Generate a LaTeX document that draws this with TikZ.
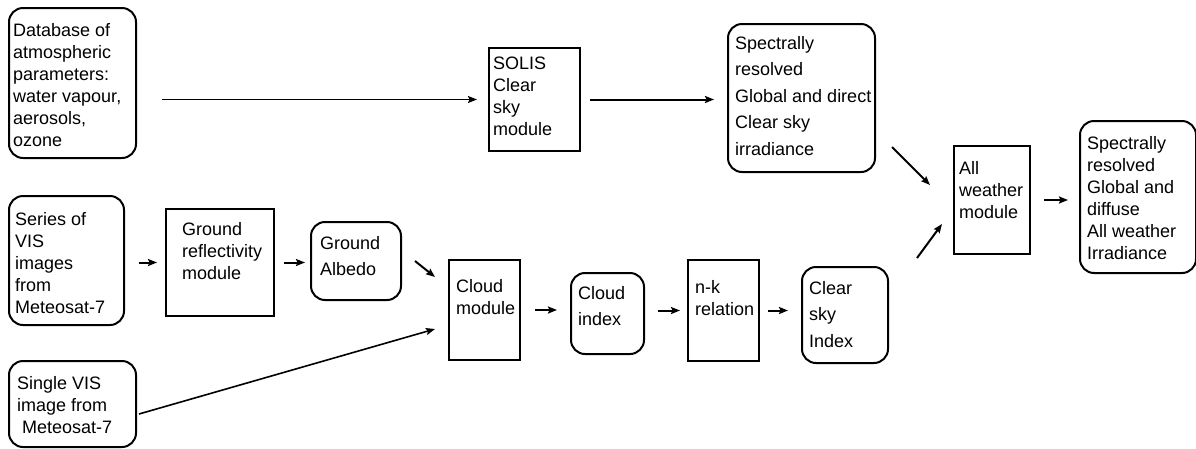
\documentclass[tikz,border=0pt]{standalone}
\usepackage{fontspec}
\setmainfont{Liberation Sans}
\usepackage{tikz}
\usetikzlibrary{arrows.meta}
\tikzset{
    sqbox/.style={draw, line width=2pt, anchor=north west, inner sep=0pt},
    rbox/.style={sqbox, rounded corners=14pt},
    txt/.style={anchor=north west, inner sep=0pt, align=left,
        font=\fontsize{18}{22}\selectfont},
    widetxt/.style={txt, font=\fontsize{18}{26.5}\selectfont},
    arr/.style={-{Stealth[length=9pt, width=7pt, inset=1.5pt]}, line width=2pt}
}

\begin{document}
\begin{tikzpicture}[x=1pt, y=1pt]
    \useasboundingbox (0,0) rectangle (1196,-448);
    % boxes, top left corner at pixel position
    \node[rbox, minimum width=127, minimum height=150] (db) at (8,-7) {};
    \node[sqbox, minimum width=91, minimum height=103] (solis) at (488,-47) {};
    \node[rbox, minimum width=147, minimum height=148] (csirr) at (727,-23) {};
    \node[sqbox, minimum width=76, minimum height=108] (awm) at (953,-145) {};
    \node[rbox, minimum width=116, minimum height=152] (final) at (1079,-120) {};
    \node[rbox, minimum width=115, minimum height=129] (series) at (8,-195) {};
    \node[sqbox, minimum width=108, minimum height=107] (grefl) at (165,-208) {};
    \node[rbox, minimum width=90, minimum height=78] (albedo) at (310,-221) {};
    \node[rbox, minimum width=127, minimum height=86] (single) at (8,-360) {};
    \node[sqbox, minimum width=71, minimum height=100] (cloudm) at (448,-259) {};
    \node[rbox, minimum width=73, minimum height=81] (cindex) at (570,-272) {};
    \node[sqbox, minimum width=71, minimum height=101] (nk) at (687,-259) {};
    \node[rbox, minimum width=86, minimum height=96] (csindex) at (801,-266) {};

    % texts
    \node[txt] (db-t) at ([xshift=5,yshift=-16]db.north west)
        {Database of\\atmospheric\\parameters:\\water vapour,\\aerosols,\\ozone};
    \node[txt] (solis-t) at ([xshift=5,yshift=-10]solis.north west)
        {SOLIS\\Clear\\sky\\module};
    \node[widetxt] (csirr-t) at ([xshift=8,yshift=-13]csirr.north west)
        {Spectrally\\resolved\\Global and direct\\Clear sky\\irradiance};
    \node[txt] (awm-t) at ([xshift=6,yshift=-16]awm.north west)
        {All\\weather\\module};
    \node[txt] (final-t) at ([xshift=8,yshift=-16]final.north west)
        {Spectrally\\resolved\\Global and\\diffuse\\All weather\\Irradiance};
    \node[txt] (series-t) at ([xshift=7,yshift=-17]series.north west)
        {Series of\\VIS\\images\\from\\Meteosat-7};
    \node[txt] (grefl-t) at ([xshift=17,yshift=-14]grefl.north west)
        {Ground\\reflectivity\\module};
    \node[widetxt] (albedo-t) at ([xshift=10,yshift=-15]albedo.north west)
        {Ground\\Albedo};
    \node[txt] (single-t) at ([xshift=9,yshift=-16]single.north west)
        {Single VIS\\image from\\\ Meteosat-7};
    \node[txt] (cloudm-t) at ([xshift=8,yshift=-20]cloudm.north west)
        {Cloud\\module};
    \node[widetxt] (cindex-t) at ([xshift=8,yshift=-14]cindex.north west)
        {Cloud\\index};
    \node[txt] (nk-t) at ([xshift=8,yshift=-21]nk.north west)
        {n-k\\relation};
    \node[widetxt] (csindex-t) at ([xshift=8,yshift=-15]csindex.north west)
        {Clear\\sky\\Index};

    % arrows
    \draw[arr, line width=1.6pt, shorten <=25pt, shorten >=11pt] (db.east |- solis.west) -- (solis.west);
    \draw[arr, shorten <=9pt, shorten >=13pt] (solis.east) -- (solis.east -| csirr.west);
    \draw[arr] ([xshift=16,yshift=26]csirr.south east) -- ([xshift=-23,yshift=-40]awm.north west);
    \draw[arr] ([xshift=28,yshift=8]csindex.north east) -- ([xshift=-11,yshift=31]awm.south west);
    \draw[arr, shorten <=13pt, shorten >=11pt] (awm.east) -- (awm.east -| final.west);
    \draw[arr, shorten <=14pt, shorten >=8pt] (series.east |- grefl.west) -- (grefl.west);
    \draw[arr, shorten <=9pt, shorten >=5pt] (grefl.east) -- (grefl.east -| albedo.west);
    \draw[arr] ([xshift=13]albedo.east) -- ([xshift=-13,yshift=-18]cloudm.north west);
    \draw[arr, line width=1.6pt] ([xshift=2,yshift=-10]single.east) -- ([xshift=-13,yshift=-19]cloudm.west);
    \draw[arr, shorten <=14pt, shorten >=13pt] (cloudm.east) -- (cloudm.east -| cindex.west);
    \draw[arr, shorten <=13pt, shorten >=7pt] (nk.west -| cindex.east) -- (nk.west);
    \draw[arr, shorten <=8pt, shorten >=13pt] (nk.east) -- (nk.east -| csindex.west);
\end{tikzpicture}
\end{document}
